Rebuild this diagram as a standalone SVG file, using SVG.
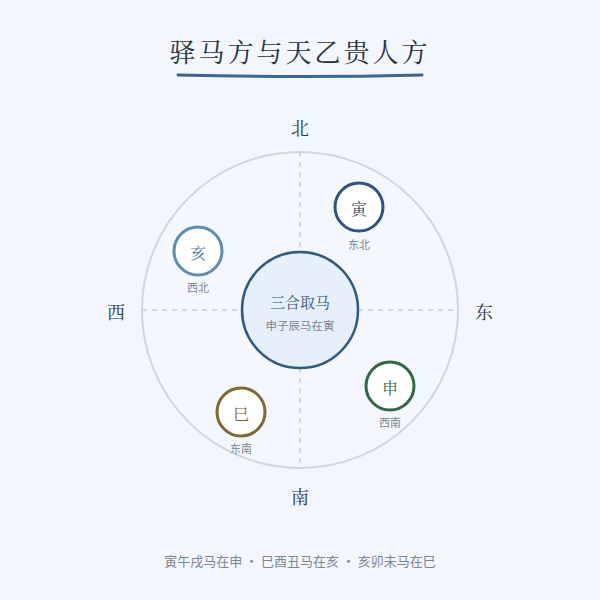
<svg xmlns="http://www.w3.org/2000/svg" width="600" height="600" viewBox="0 0 600 600">
<style>
.serif{font-family:"Noto Serif CJK SC","Liberation Serif","Noto Sans CJK SC",serif;text-anchor:middle;dominant-baseline:central}
.sans{font-family:"Noto Sans CJK SC","Liberation Sans",sans-serif;text-anchor:middle;dominant-baseline:central}
.dir{font-size:18px;fill:#2b3440}
.node{fill:#ffffff;stroke-width:3}
.nlabel{font-size:16px}
.sub{font-size:11px;fill:#7b8593}
.axis{stroke:#c4d0dc;stroke-width:1.5;stroke-dasharray:5 5;fill:none}
</style>
<rect width="600" height="600" fill="#f3f7fd"/>
<g id="title">
<text class="serif" x="300" y="50" font-size="26" fill="#26303c" letter-spacing="3">驿马方与天乙贵人方</text>
<path d="M178 75 Q300 78 422 75" stroke="#3a6590" stroke-width="3" fill="none" stroke-linecap="round"/>
</g>
<g id="ring">
<circle cx="300" cy="310" r="158" fill="#f4f8fe" stroke="#ccd7e3" stroke-width="2"/>
</g>
<g id="connectors">
<line class="axis" x1="300" y1="152" x2="300" y2="252"/>
<line class="axis" x1="300" y1="368" x2="300" y2="468"/>
<line class="axis" x1="142" y1="310" x2="242" y2="310"/>
<line class="axis" x1="358" y1="310" x2="458" y2="310"/>
</g>
<g id="directions">
<text class="serif dir" x="300" y="127">北</text>
<text class="serif dir" x="300" y="496">南</text>
<text class="serif dir" x="116" y="311">西</text>
<text class="serif dir" x="484" y="311">东</text>
</g>
<g id="center">
<circle cx="300" cy="310" r="58" fill="#e6f0fa" stroke="#2f5a85" stroke-width="2.5"/>
<text class="serif" x="300" y="301" font-size="15" fill="#35557a">三合取马</text>
<text class="sans" x="300" y="325" font-size="11.5" fill="#7b8593">申子辰马在寅</text>
</g>
<g id="node-yin">
<circle class="node" cx="359" cy="207" r="24" stroke="#2d5580"/>
<text class="serif nlabel" x="359" y="208" fill="#2d4d72">寅</text>
<text class="sans sub" x="359" y="244">东北</text>
</g>
<g id="node-hai">
<circle class="node" cx="198" cy="251" r="24" stroke="#5b8db5"/>
<text class="serif nlabel" x="198" y="252" fill="#4a7aa3">亥</text>
<text class="sans sub" x="198" y="287">西北</text>
</g>
<g id="node-shen">
<circle class="node" cx="390" cy="386" r="24" stroke="#2e6a45"/>
<text class="serif nlabel" x="390" y="387" fill="#2e6a45">申</text>
<text class="sans sub" x="390" y="422">西南</text>
</g>
<g id="node-si">
<circle class="node" cx="241" cy="412" r="24" stroke="#7e6a35"/>
<text class="serif nlabel" x="241" y="413" fill="#7a6330">巳</text>
<text class="sans sub" x="241" y="448">东南</text>
</g>
<g id="footer">
<text class="sans" x="300" y="560" font-size="13" fill="#7b8593">寅午戌马在申 · 巳酉丑马在亥 · 亥卯未马在巳</text>
</g>
</svg>
